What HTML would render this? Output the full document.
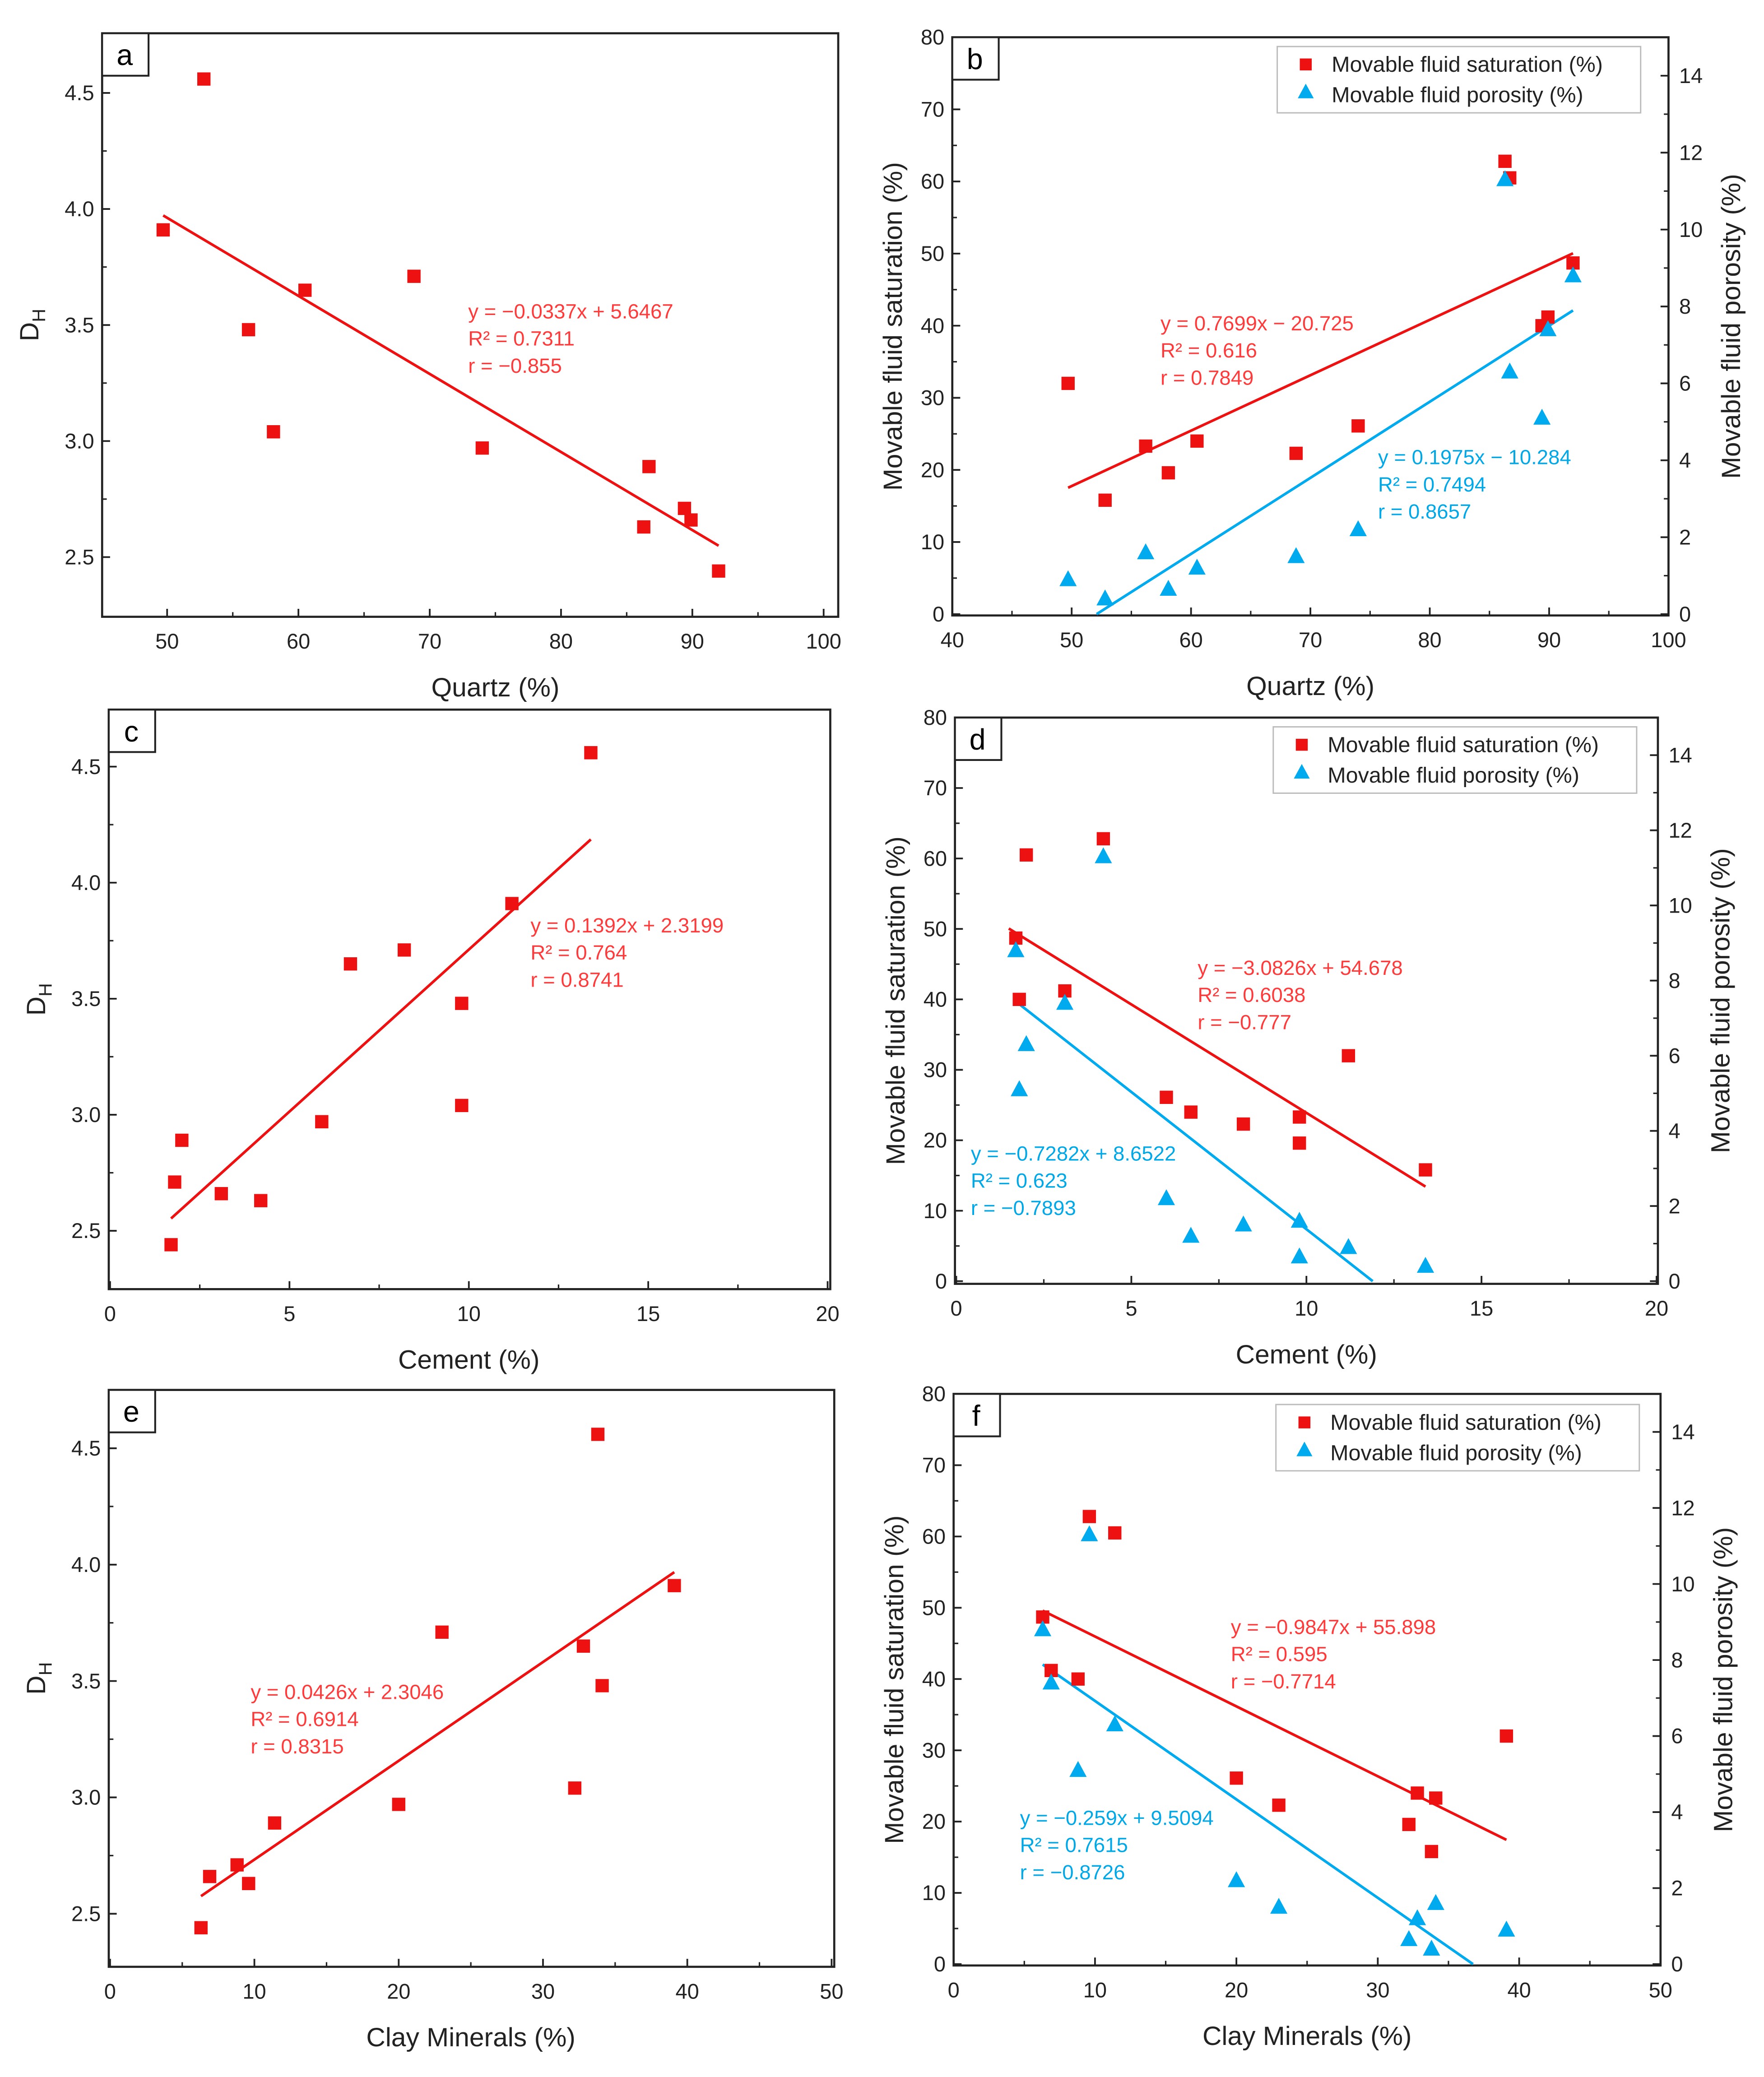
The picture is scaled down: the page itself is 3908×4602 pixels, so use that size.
<!DOCTYPE html>
<html><head><meta charset="utf-8"><style>
html,body{margin:0;padding:0;background:#fff}
svg{display:block}
text{font-family:"Liberation Sans",Arial,sans-serif}
</style></head><body>
<svg id="fig" width="3908" height="4602" viewBox="0 0 1330 1566" xmlns="http://www.w3.org/2000/svg"></svg>
<script>
// ---------- DATA ----------
const quartzX = [49.7,52.8,56.2,58.1,60.5,68.8,74.0,86.3,86.7,89.4,89.9,92.0];
const quartzDH = [3.91,4.56,3.48,3.04,3.65,3.71,2.97,2.63,2.89,2.71,2.66,2.44];
const quartzSat = [32,15.8,23.3,19.6,24,22.3,26.1,62.8,60.5,40,41.2,48.7];
const quartzPorX = [49.7,52.8,56.2,58.1,60.5,68.8,74.0,86.3,86.7,89.4,89.9,92.0];
const quartzPor = [0.9,0.4,1.6,0.65,1.2,1.5,2.2,11.3,6.3,5.1,7.4,8.8];
const cementX = [1.7,1.8,2.0,3.1,4.2,5.9,6.7,8.2,9.8,9.8,11.2,13.4];
const cementDH = [2.44,2.71,2.89,2.66,2.63,2.97,3.65,3.71,3.48,3.04,3.91,4.56];
const cementSatX = [1.7,1.8,2.0,3.1,4.2,6.0,6.7,8.2,9.8,9.8,11.2,13.4];
const cementSat = [48.7,40,60.5,41.2,62.8,26.1,24,22.3,23.3,19.6,32,15.8];
const cementPor = [8.8,5.1,6.3,7.4,11.3,2.2,1.2,1.5,1.6,0.65,0.9,0.4];
const clayX = [6.3,6.9,8.8,9.6,11.4,20,23,32.2,32.8,33.8,34.1,39.1];
const clayDH = [2.44,2.66,2.71,2.63,2.89,2.97,3.71,3.04,3.65,4.56,3.48,3.91];
const claySat = [48.7,41.2,40,62.8,60.5,26.1,22.3,19.6,24,15.8,23.3,32];
const clayPor = [8.8,7.4,5.1,11.3,6.3,2.2,1.5,0.65,1.2,0.4,1.6,0.9];
const xTicksQ = [50,60,70,80,90,100];
const xTicksQb = [40,50,60,70,80,90,100];
const xTicksC = [0,5,10,15,20];
const xTicksCl = [0,10,20,30,40,50];
const dhTicks = [2.5,3.0,3.5,4.0,4.5];
const satTicks = [0,10,20,30,40,50,60,70,80];
const porTicks = [0,2,4,6,8,10,12,14];

const NS="http://www.w3.org/2000/svg";
const svg=document.getElementById('fig');
const RED="#ee1111", BLUE="#00aaee", RT="#ff3a3a", BT="#00a8e8";
function el(tag,attrs,parent){const e=document.createElementNS(NS,tag);for(const k in attrs)e.setAttribute(k,attrs[k]);(parent||svg).appendChild(e);return e;}
function txt(s,attrs,parent){const e=el('text',attrs,parent);e.textContent=s;return e;}
function fit(xs,ys){const n=xs.length;let mx=0,my=0;xs.forEach((v,i)=>{mx+=v;my+=ys[i]});mx/=n;my/=n;let sxy=0,sxx=0;xs.forEach((v,i)=>{sxy+=(v-mx)*(ys[i]-my);sxx+=(v-mx)*(v-mx)});const b=sxy/sxx;return [b,my-b*mx];}

function frame(g,L,T,R,B){el('rect',{x:L,y:T,width:R-L,height:B-T,fill:'none',stroke:'#222','stroke-width':1.6},g);}
function label(g,s,L,T){
  const r=el('rect',{x:L,y:T,width:35,height:32,fill:'#fff',stroke:'#222','stroke-width':1.4},g);
  
  txt(s,{x:L+17,y:T+24,'font-size':22,'text-anchor':'middle'},g);
}
function xAxis(g,sx,ticks,B,title,minorStep){
  ticks.forEach(t=>{const x=sx(t);el('line',{x1:x,x2:x,y1:B,y2:B-6,stroke:'#222','stroke-width':1.3},g);
    txt(String(t),{x:x,y:B+24,'font-size':16,'text-anchor':'middle',fill:'#222'},g);});
  for(let i=0;i<ticks.length-1;i++){const m=(ticks[i]+ticks[i+1])/2;const x=sx(m);el('line',{x1:x,x2:x,y1:B,y2:B-3.5,stroke:'#222','stroke-width':1.1},g);}
  const t=txt(title,{x:(sx(ticks[0])+sx(ticks[ticks.length-1]))/2,y:B+60,'font-size':20,'text-anchor':'middle',fill:'#222'},g);
  return t;
}
function yAxisLeft(g,sy,ticks,L,fmt){
  ticks.forEach(t=>{const y=sy(t);el('line',{x1:L,x2:L+6,y1:y,y2:y,stroke:'#222','stroke-width':1.3},g);
    txt(fmt(t),{x:L-6,y:y+5.5,'font-size':16,'text-anchor':'end',fill:'#222'},g);});
  for(let i=0;i<ticks.length-1;i++){const y=sy((ticks[i]+ticks[i+1])/2);el('line',{x1:L,x2:L+3.5,y1:y,y2:y,stroke:'#222','stroke-width':1.1},g);}
}
function yAxisRight(g,sy,ticks,R){
  ticks.forEach(t=>{const y=sy(t);el('line',{x1:R,x2:R-6,y1:y,y2:y,stroke:'#222','stroke-width':1.3},g);
    txt(String(t),{x:R+8,y:y+5.5,'font-size':16,'text-anchor':'start',fill:'#222'},g);});
  for(let i=0;i<ticks.length-1;i++){const y=sy((ticks[i]+ticks[i+1])/2);el('line',{x1:R,x2:R-3.5,y1:y,y2:y,stroke:'#222','stroke-width':1.1},g);}
}
function squares(g,xs,ys,sx,sy){xs.forEach((v,i)=>{const r=el('rect',{x:sx(v)-5,y:sy(ys[i])-5,width:10,height:10,fill:RED},g);
  });}
function tris(g,xs,ys,sx,sy){xs.forEach((v,i)=>{const x=sx(v),y=sy(ys[i]);const p=el('polygon',{points:`${x},${y-7} ${x-6.5},${y+5} ${x+6.5},${y+5}`,fill:BLUE},g);
  });}
function fitLine(g,xs,ys,sx,sy,x0,x1,col,clip0){
  const [b,a]=fit(xs,ys);
  if(clip0){const xz=-a/b; if(b<0&&x1>xz)x1=xz; if(b>0&&x0<xz)x0=xz;}
  const l=el('line',{x1:sx(x0),y1:sy(a+b*x0),x2:sx(x1),y2:sy(a+b*x1),stroke:col,'stroke-width':2},g);
  
}
function eq(g,lines,x,y,col){lines.forEach((s,i)=>txt(s,{x:x,y:y+i*20.5,'font-size':15.5,fill:col},g));}
function lin(d0,d1,p0,p1){return v=>p0+(v-d0)*(p1-p0)/(d1-d0);}

function dhPanel(name,lab,L,T,R,B,x0px,x1px,xd0,xd1,y45,y25,xs,ys,xticks,xtitle,eqL,ex,ey,fx0,fx1){
  const g=el('g',{});
  const sx=lin(xd0,xd1,x0px,x1px), sy=lin(2.5,4.5,y25,y45);
  frame(g,L,T,R,B);
  xAxis(g,sx,xticks,B,xtitle);
  yAxisLeft(g,sy,dhTicks,L,t=>t.toFixed(1));
  const yt=el('text',{x:0,y:0,'font-size':20,fill:'#222',transform:`translate(${L-48},${(T+B)/2}) rotate(-90)`,'text-anchor':'middle'},g);
  yt.textContent='D';const sub=el('tspan',{'font-size':14,dy:5},yt);sub.textContent='H';
  
  fitLine(g,xs,ys,sx,sy,fx0,fx1,RED);
  squares(g,xs,ys,sx,sy);
  eq(g,eqL,ex,ey,RT);
  label(g,lab,L,T);
}
function sfPanel(name,lab,L,T,R,B,x0px,x1px,xd0,xd1,y0,y80,xs,sat,por,xticks,xtitle,eqR,erx,ery,eqB,ebx,eby,fx0,fx1,bx0,bx1,legX,legY){
  const g=el('g',{});
  const sx=lin(xd0,xd1,x0px,x1px), sy=lin(0,80,y0,y80), sp=v=>sy(v*80/15);
  frame(g,L,T,R,B);
  xAxis(g,sx,xticks,B,xtitle);
  yAxisLeft(g,sy,satTicks,L,t=>String(t));
  yAxisRight(g,sp,porTicks,R);
  const yl=txt('Movable fluid saturation (%)',{'font-size':20,fill:'#222','text-anchor':'middle',transform:`translate(${L-38},${(T+B)/2}) rotate(-90)`},g);
  
  const yr=txt('Movable fluid porosity (%)',{'font-size':20,fill:'#222','text-anchor':'middle',transform:`translate(${R+54},${(T+B)/2}) rotate(-90)`},g);
  
  fitLine(g,xs,sat,sx,sy,fx0,fx1,RED);
  const spy=v=>sp(v);
  fitLine(g,xs,por,sx,spy,bx0,bx1,BLUE,true);
  squares(g,xs,sat,sx,sy);
  tris(g,xs,por,sx,sp);
  eq(g,eqR,erx,ery,RT);
  eq(g,eqB,ebx,eby,BT);
  const lg=el('g',{},g);
  el('rect',{x:legX,y:legY,width:274,height:50,fill:'#fff',stroke:'#bbb','stroke-width':1},lg);
  const e1=el('g',{},lg);
  el('rect',{x:legX+17,y:legY+9,width:9,height:9,fill:RED},e1);
  txt('Movable fluid saturation (%)',{x:legX+41,y:legY+19,'font-size':16.5,fill:'#222'},e1);
  const e2=el('g',{},lg);
  el('polygon',{points:`${legX+21.5},${legY+28} ${legX+15.5},${legY+39} ${legX+27.5},${legY+39}`,fill:BLUE},e2);
  txt('Movable fluid porosity (%)',{x:legX+41,y:legY+42,'font-size':16.5,fill:'#222'},e2);
  label(g,lab,L,T);
}

dhPanel('panel-a-quartz-dh','a',77,25,632,465,126,621,50,100,70,420,quartzX,quartzDH,xTicksQ,'Quartz (%)',
  ['y = −0.0337x + 5.6467','R² = 0.7311','r = −0.855'],353,240,49.7,92);
sfPanel('panel-b-quartz-fluid','b',718,28,1258,464,718,1258,40,100,463,28,quartzX,quartzSat,quartzPor,xTicksQb,'Quartz (%)',
  ['y = 0.7699x − 20.725','R² = 0.616','r = 0.7849'],875,249,
  ['y = 0.1975x − 10.284','R² = 0.7494','r = 0.8657'],1039,350,49.7,92,49.7,92,963,35);
dhPanel('panel-c-cement-dh','c',82,535,626,972,83,624,0,20,578,928,cementX,cementDH,xTicksC,'Cement (%)',
  ['y = 0.1392x + 2.3199','R² = 0.764','r = 0.8741'],400,703,1.7,13.4);
sfPanel('panel-d-cement-fluid','d',720,541,1250,968,721,1249,0,20,966,541,cementSatX,cementSat,cementPor,xTicksC,'Cement (%)',
  ['y = −3.0826x + 54.678','R² = 0.6038','r = −0.777'],903,735,
  ['y = −0.7282x + 8.6522','R² = 0.623','r = −0.7893'],732,875,1.5,13.4,1.7,13.4,960,548);
dhPanel('panel-e-clay-dh','e',82,1048,629,1483,83,627,0,50,1092,1443,clayX,clayDH,xTicksCl,'Clay Minerals (%)',
  ['y = 0.0426x + 2.3046','R² = 0.6914','r = 0.8315'],189,1281,6.3,39.1);
sfPanel('panel-f-clay-fluid','f',719,1051,1252,1482,719,1252,0,50,1481,1051,clayX,claySat,clayPor,xTicksCl,'Clay Minerals (%)',
  ['y = −0.9847x + 55.898','R² = 0.595','r = −0.7714'],928,1232,
  ['y = −0.259x + 9.5094','R² = 0.7615','r = −0.8726'],769,1376,6.3,39.1,6.3,39.1,962,1059);
</script>
</body></html>
